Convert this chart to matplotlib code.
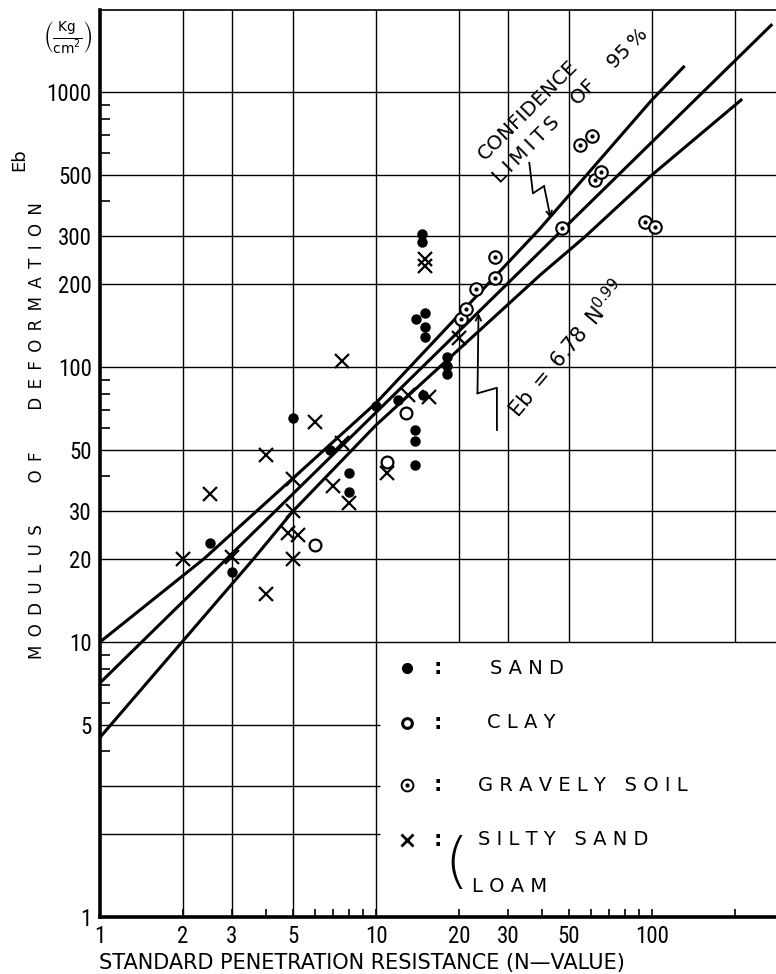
import matplotlib.pyplot as plt
from matplotlib import font_manager

# N-value vs modulus of deformation Eb (kg/cm2)
sand_n = [2.5, 3, 5, 6.8, 8, 8, 10, 12, 13.8, 13.8, 13.8, 14.8, 14, 15, 15, 15, 14.7, 14.7, 18, 18, 18]
sand_e = [23, 18, 65, 50, 41, 35, 72, 76, 59, 54, 44, 79, 150, 157, 140, 129, 305, 286, 109, 101, 94]
clay_n = [6, 11, 12.8]
clay_e = [22.5, 45, 68]
gravel_n = [20.3, 21.2, 23, 27, 27, 47.3, 55, 60.5, 62, 65.4, 94, 102]
gravel_e = [150, 163, 192, 211, 252, 320, 640, 690, 480, 513, 338, 322]
silt_n = [2, 2.5, 3, 4, 4, 4.8, 5.2, 5, 5, 5, 6, 7, 7.5, 7.5, 8, 11, 13, 15.6, 15, 15, 20]
silt_e = [20, 34.5, 20.4, 15, 48, 25, 24.5, 20, 30, 39, 63, 37, 53, 105, 32, 41, 79, 78, 248, 232, 127]

# regression line and 95% confidence limits
fit_n = [1, 270]
fit_e = [7.1, 1750]
upper_n = [1, 2.37, 5, 10, 39.3, 99.7, 130]
upper_e = [10, 20, 39.4, 74, 319, 935, 1233]
lower_n = [1, 3.59, 5, 10, 39.3, 57.2, 100, 210]
lower_e = [4.5, 20, 29.9, 61.5, 216, 298, 500, 935]

x_ticks = [1, 2, 3, 5, 10, 20, 30, 50, 100, 200]
x_labels = ['1', '2', '3', '5', '10', '20', '30', '50', '100', '']
y_ticks = [1, 5, 10, 20, 30, 50, 100, 200, 300, 500, 1000]
y_labels = ['1', '5', '10', '20', '30', '50', '100', '200', '300', '500', '1000']
minor = [4, 6, 7, 8, 9, 40, 60, 70, 80, 90, 400, 600, 700, 800, 900]

names = {f.name for f in font_manager.fontManager.ttflist}
NUM_FONT = 'DejaVu Sans'
NUM_SIZE = 13
for cand in ['Liberation Sans Narrow', 'DejaVu Sans Condensed', 'Roboto Condensed']:
    if cand in names:
        NUM_FONT = cand
        NUM_SIZE = 16.5
        break

plt.rcParams['font.family'] = 'DejaVu Sans'
plt.rcParams['mathtext.fontset'] = 'dejavusans'

THIN = '\u2009'
EN = '\u2002'


def spaced(s, gap=' ', word_gap='   '):
    return word_gap.join(gap.join(w) for w in s.split(' '))


fig = plt.figure(figsize=(7.76, 9.74), dpi=100)
ax = fig.add_axes([100 / 776, 57 / 974, 676 / 776, 907 / 974])
ax.set_xscale('log')
ax.set_yscale('log')
ax.set_xlim(1, 281)
ax.set_ylim(1, 1987)

# grid, with the blank legend box in the lower right
gk = dict(color='black', lw=1.0, zorder=1)
for n in [2, 3, 5, 10]:
    ax.vlines(n, 1, 1987, **gk)
for n in [20, 30, 50, 100, 200]:
    ax.vlines(n, 10, 1987, **gk)
for e in [10, 20, 30, 50, 100, 200, 300, 500, 1000]:
    ax.hlines(e, 1, 281, **gk)
for e in [2, 3, 5]:
    ax.hlines(e, 1, 10.35, **gk)

for s in ['left', 'bottom']:
    ax.spines[s].set_linewidth(2.6)
ax.spines['top'].set_linewidth(1.2)
ax.spines['right'].set_visible(False)

ax.set_xticks(x_ticks)
ax.set_xticklabels(x_labels, fontfamily=NUM_FONT, fontsize=NUM_SIZE)
ax.set_xticks([m for m in minor if m < 281], minor=True)
ax.set_xticklabels([], minor=True)
ax.set_yticks(y_ticks)
ax.set_yticklabels(y_labels, fontfamily=NUM_FONT, fontsize=NUM_SIZE)
ax.set_yticks(minor, minor=True)
ax.set_yticklabels([], minor=True)
ax.tick_params(axis='x', which='major', direction='in', length=6, width=1.2, pad=6)
ax.tick_params(axis='x', which='minor', direction='in', length=6, width=1.2)
ax.tick_params(axis='y', which='major', direction='in', length=0, pad=6)
ax.tick_params(axis='y', which='minor', direction='in', length=7, width=1.2)
ax.tick_params(top=False, right=False, which='both')

# lines
ax.plot(fit_n, fit_e, color='black', lw=2.2, zorder=3)
ax.plot(upper_n, upper_e, color='black', lw=2.2, zorder=3)
ax.plot(lower_n, lower_e, color='black', lw=2.2, zorder=3)

# points
ax.plot(sand_n, sand_e, 'o', color='black', ms=6.5, ls='none', zorder=4)
ax.plot(clay_n, clay_e, 'o', mfc='white', mec='black', mew=1.6, ms=8.5, ls='none', zorder=4)
ax.plot(gravel_n, gravel_e, 'o', mfc='white', mec='black', mew=1.5, ms=9, ls='none', zorder=4)
ax.plot(gravel_n, gravel_e, 'o', color='black', ms=2, ls='none', zorder=5)
ax.plot(silt_n, silt_e, 'x', color='black', mew=1.6, ms=10, ls='none', zorder=4)

# annotations
ax.text(24.0, 580, 'CONFIDENCE', rotation=45, rotation_mode='anchor',
        ha='left', va='center', fontsize=14.5)
line2 = THIN.join('LIMITS') + EN * 2 + THIN + 'OF' + EN * 2 + THIN + '95' + THIN + '%'
ax.text(27.2, 479, line2, rotation=45, rotation_mode='anchor',
        ha='left', va='center', fontsize=14.5)
ax.plot([35.9, 37.0, 40.6], [553, 428, 455], color='black', lw=1.3)
ax.annotate('', xy=(42.9, 347), xytext=(40.6, 455),
            arrowprops=dict(arrowstyle='->', lw=1.3, color='black', shrinkA=0, shrinkB=0))

ax.text(49.2, 116, 'Eb' + EN + '=' + EN + '6.78' + EN + 'N$^{0.99}$', rotation=50,
        rotation_mode='anchor', ha='center', va='center', fontsize=15)
ax.plot([27.4, 27.4, 23.3], [59, 84, 80.2], color='black', lw=1.3)
ax.annotate('', xy=(23.5, 157), xytext=(23.3, 80.2),
            arrowprops=dict(arrowstyle='->', lw=1.3, color='black', shrinkA=0, shrinkB=0))

# legend drawn as text in the blank box
tr = ax.transAxes
rows = [0.2745, 0.2139, 0.1455, 0.0849]
ax.plot([0.454], [rows[0]], 'o', color='black', ms=7, transform=tr)
ax.plot([0.454], [rows[1]], 'o', mfc='white', mec='black', mew=2.2, ms=7, transform=tr)
ax.plot([0.454], [rows[2]], 'o', mfc='white', mec='black', mew=1.4, ms=8.5, transform=tr)
ax.plot([0.454], [rows[2]], 'o', color='black', ms=2, transform=tr)
ax.plot([0.454], [rows[3]], 'x', color='black', mew=2.0, ms=8, transform=tr)
for r in rows:
    ax.text(0.5, r, ':', transform=tr, ha='center', va='center', fontsize=15, fontweight='bold')
ax.text(0.577, rows[0], spaced('SAND'), transform=tr, va='center', fontsize=14)
ax.text(0.5725, rows[1], spaced('CLAY'), transform=tr, va='center', fontsize=14)
ax.text(0.559, rows[2], spaced('GRAVELY SOIL'), transform=tr, va='center', fontsize=14)
ax.text(0.559, rows[3], spaced('SILTY SAND'), transform=tr, va='center', fontsize=14)
ax.text(0.550, 0.0331, spaced('LOAM'), transform=tr, va='center', fontsize=14)
ax.text(0.527, 0.058, '(', transform=tr, ha='center', va='center', fontsize=44,
        fontweight='light')

# axis titles
fig.text(0.4665, 0.0113, 'STANDARD PENETRATION RESISTANCE (N\u2014VALUE)',
         ha='center', va='center', fontsize=15)
fig.text(0.0477, 0.5575, spaced('MODULUS OF DEFORMATION', gap=EN, word_gap=EN * 5),
         rotation=90, ha='center', va='center', fontsize=12)
fig.text(0.0245, 0.8357, 'Eb', rotation=90, ha='center', va='center', fontsize=13)
fig.text(0.0876, 0.962, r'$\left(\frac{\mathsf{Kg}}{\mathsf{cm}^2}\right)$',
         ha='center', va='center', fontsize=14)

fig.savefig('out.png', dpi=100)
